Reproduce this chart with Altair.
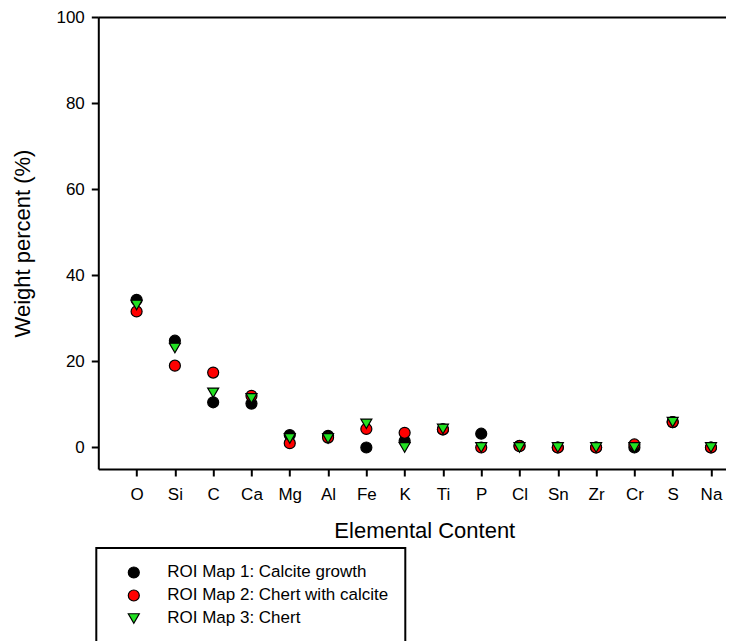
import altair as alt
import pandas as pd

elements = ["O", "Si", "C", "Ca", "Mg", "Al", "Fe", "K", "Ti", "P", "Cl", "Sn", "Zr", "Cr", "S", "Na"]
series_names = ["ROI Map 1: Calcite growth", "ROI Map 2: Chert with calcite", "ROI Map 3: Chert"]
map1 = [34.3, 24.8, 10.5, 10.2, 2.9, 2.7, 0.0, 1.5, 4.2, 3.2, 0.4, 0.0, 0.0, 0.0, 5.9, 0.0]
map2 = [31.6, 19.0, 17.4, 12.0, 1.0, 2.3, 4.3, 3.4, 4.2, 0.0, 0.3, 0.0, 0.0, 0.7, 5.9, 0.0]
map3 = [33.1, 23.1, 12.7, 11.4, 2.1, 2.1, 5.5, 0.0, 4.3, 0.0, 0.0, 0.0, 0.0, 0.0, 5.9, 0.0]
colors = ["#000000", "#ff0000", "#22e022"]
shapes = ["circle", "circle", "triangle-down"]
y_ticks = [0, 20, 40, 60, 80, 100]

rows = []
for name, vals in zip(series_names, [map1, map2, map3]):
    for i, (el, v) in enumerate(zip(elements, vals)):
        rows.append({"series": name, "element": el, "pos": i + 1, "value": v})
df = pd.DataFrame(rows)

label_expr = "[" + ",".join("'" + e + "'" for e in elements) + "][datum.value - 1]"

FONT = "Liberation Sans"
x_scale = alt.Scale(domain=[0, 16.4], nice=False, zero=False)
y_scale = alt.Scale(domain=[-5, 100], nice=False, zero=False)

legend = alt.Legend(
    orient="none", legendX=-2, legendY=531,
    title="\u00a0" * 65, titleOrient="bottom", titleFontSize=17, titleLimit=1000,
    titlePadding=4, titleFont=FONT,
    padding=16, strokeColor="black",
    labelFontSize=17, labelFont=FONT, labelColor="black", labelLimit=500,
    symbolOffset=13, labelOffset=25, rowPadding=5,
    symbolSize=121, symbolStrokeColor="black", symbolStrokeWidth=1.2,
)

points = alt.Chart(df).mark_point(
    filled=True, size=121, stroke="black", strokeWidth=1.2, opacity=1
).encode(
    x=alt.X("pos:Q", scale=x_scale, axis=alt.Axis(
        orient="bottom", values=list(range(1, 17)), labelExpr=label_expr,
        title="Elemental Content", titleFontSize=22, titlePadding=18, titleX=326,
        labelFontSize=17, labelPadding=11, tickSize=7,
    )),
    y=alt.Y("value:Q", scale=y_scale, axis=alt.Axis(
        values=y_ticks, title="Weight percent (%)", titleFontSize=22, titlePadding=21,
        labelFontSize=17, labelPadding=7, tickSize=7,
    )),
    color=alt.Color("series:N", scale=alt.Scale(domain=series_names, range=colors), legend=legend),
    shape=alt.Shape("series:N", scale=alt.Scale(domain=series_names, range=shapes), legend=legend),
)

top = alt.Chart(df).mark_point(opacity=0).encode(
    x=alt.X("pos:Q", scale=x_scale, axis=alt.Axis(
        orient="top", labels=False, ticks=False, title="", domain=True,
    )),
    y=alt.Y("value:Q", scale=y_scale, axis=None),
)

chart = alt.layer(points, top).resolve_axis(x="independent", y="independent").properties(
    width=628, height=452,
    autosize=alt.AutoSizeParams(type="none"),
    padding={"left": 90.3, "top": 9, "right": 0, "bottom": 172},
).configure_view(stroke="transparent").configure_axis(
    grid=False, domainColor="black", domainWidth=2, tickColor="black", tickWidth=2,
    labelColor="black", titleColor="black", labelFont=FONT, titleFont=FONT,
    titleFontWeight="normal",
).configure_legend(strokeWidth=2)

chart.save("out.html", embed_options={"renderer": "svg", "actions": False})
